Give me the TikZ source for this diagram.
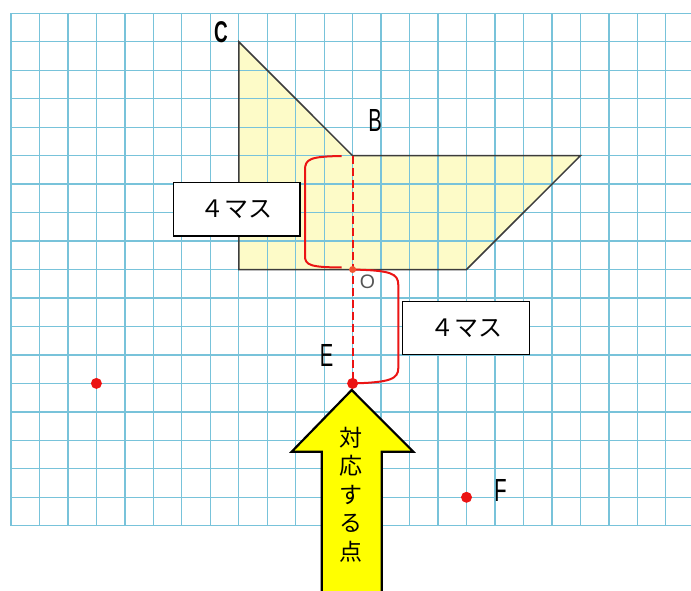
\documentclass[tikz,border=0pt]{standalone}
\usepackage{fontspec}
\newfontfamily\cjk{Noto Sans CJK JP}
\newfontfamily\lbl[FakeStretch=0.63]{Liberation Sans}
\newfontfamily\lblo{Liberation Sans}
\definecolor{gridc}{RGB}{120,195,218}
\definecolor{shapefill}{RGB}{253,251,200}
\definecolor{redc}{RGB}{235,20,20}
\definecolor{odotc}{RGB}{240,85,50}
\definecolor{arrowy}{RGB}{255,255,0}
\definecolor{outlinec}{RGB}{60,60,60}
\begin{document}
\begin{tikzpicture}[x=1pt,y=-1pt,
  gridline/.style={draw=gridc,line width=1.3pt},
  outline/.style={draw=outlinec,line width=1.5pt,line join=miter},
  bracket/.style={draw=redc,line width=2pt},
  dashline/.style={draw=redc,dash pattern=on 8pt off 4pt,line width=2pt},
  reddot/.style={circle,fill=redc,inner sep=0pt,minimum size=11pt},
  odot/.style={circle,fill=odotc,inner sep=0pt,minimum size=7pt},
  masbox/.style={draw,fill=white,line width=1.6pt,minimum width=126.7pt,minimum height=53pt,inner sep=0pt,font=\cjk\fontsize{24}{24}\selectfont},
  lab/.style={inner sep=0pt,font=\lbl\fontsize{32}{32}\selectfont},
  arrowtext/.style={inner sep=0pt,align=center,font=\cjk\fontsize{23}{28.5}\selectfont}
]
\useasboundingbox (0,0) rectangle (691,591);
\clip (0,0) rectangle (691,591);
\fill[white] (0,0) rectangle (691,591);
% points
\coordinate (C) at (238.8,41.8);
\coordinate (B) at (352.6,155.7);
\coordinate (R) at (580.4,155.7);
\coordinate (Q) at (466.5,269.5);
\coordinate (O) at (352.6,269.5);
\coordinate (L) at (238.8,269.5);
\coordinate (E) at (352.6,383.4);
\coordinate (P) at (96.4,383.4);
\coordinate (F) at (466.5,497.3);
% shape fill
\fill[shapefill] (C) -- (B) -- (R) -- (Q) -- (L) -- cycle;
% grid
\foreach \i in {0,...,23} \draw[gridline] ({11+28.47*\i},13.3) -- ({11+28.47*\i},525.8);
\foreach \j in {0,...,18} \draw[gridline] (11,{13.3+28.47*\j}) -- (691,{13.3+28.47*\j});
% shape outline
\draw[outline] (C) -- (B) -- (R) -- (Q) -- (L) -- cycle;
% dashed line
\draw[dashline] (B) -- (E);
% brackets
\draw[bracket] (341.7,156) .. controls (310,156.5) and (305,159) .. (305,170) -- (305,256) .. controls (305,265) and (310,267.3) .. (341.7,267.5);
\draw[bracket] (O) .. controls (390,270.5) and (398.3,273) .. (398.3,285) -- (398.3,368) .. controls (398.3,379) and (390,382.5) .. (E);
% boxes
\node[masbox] (m1) at (236.7,209.2) {４マス};
\node[masbox] (m2) at (466,328) {４マス};
% arrow
\draw[fill=arrowy,line width=2.2pt,line join=miter] (351.7,390) -- (413.3,451.7) -- (381.7,451.7) -- (381.7,600) -- (321.7,600) -- (321.7,451.7) -- (291.7,451.7) -- cycle;
\node[arrowtext] (t) at (350.5,494.5) {対\\応\\す\\る\\点};
% dots
\node[odot] (Od) at (O) {};
\node[reddot] (Ed) at (E) {};
\node[reddot] (Pd) at (P) {};
\node[reddot] (Fd) at (F) {};
% labels
\node[lab,font=\lbl\bfseries\fontsize{30}{30}\selectfont] (lC) at (221,32.5) {C};
\node[lab] (lB) at (375,120) {B};
\node[lab] (lE) at (326.7,355) {E};
\node[lab] (lF) at (500.5,490) {F};
\node[inner sep=0pt,text={rgb,255:red,85;green,85;blue,85},font=\lblo\fontsize{19.5}{19.5}\selectfont] (lO) at (367.5,282) {O};
\end{tikzpicture}
\end{document}
